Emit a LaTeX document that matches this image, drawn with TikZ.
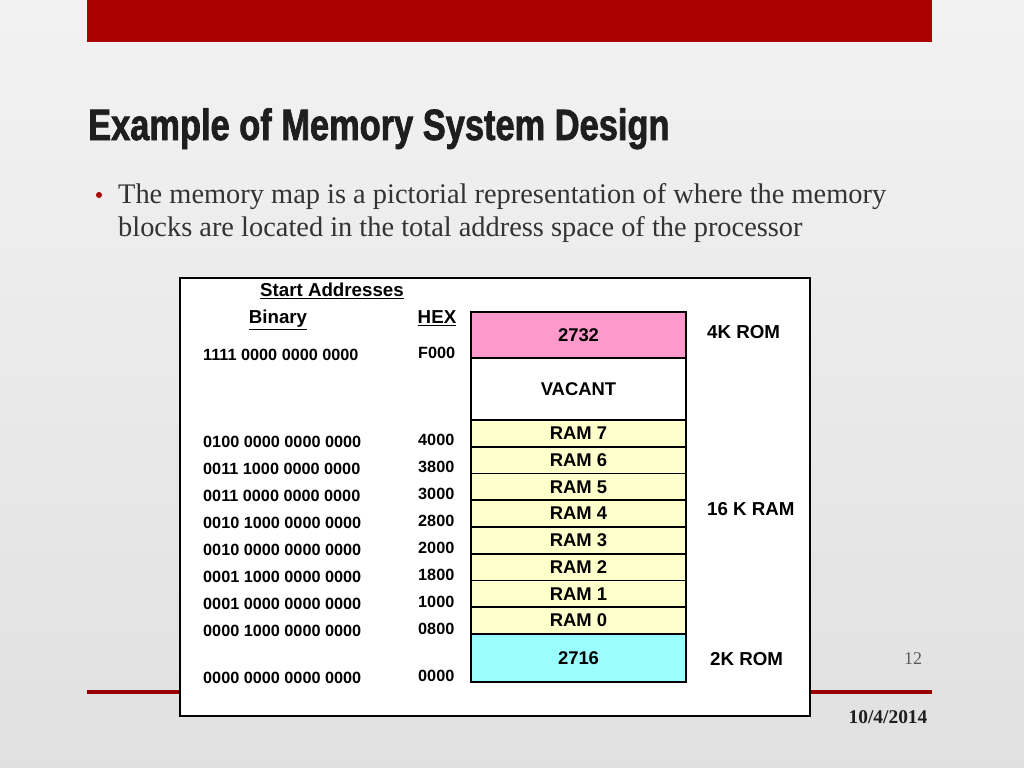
\documentclass[tikz,border=0pt]{standalone}
\usepackage{fontspec}
\setmainfont{Liberation Serif}
\newfontfamily\arialfnt{Liberation Sans}
\newfontfamily\titlefnt[FakeStretch=0.785, FakeBold=1.6]{Liberation Sans}
\definecolor{slidered}{HTML}{AA0000}
\definecolor{romtop}{HTML}{FF99CC}
\definecolor{ramfill}{HTML}{FFFFCC}
\definecolor{rombot}{HTML}{99FFFF}
\definecolor{titlegray}{HTML}{1E1E1E}
\definecolor{bodygray}{HTML}{333333}
\tikzset{
  blk/.style={draw, line width=1.6pt, minimum width=215bp, inner sep=0pt,
    font=\arialfnt\bfseries\fontsize{18.5}{20}\selectfont},
  addr/.style={anchor=west, inner sep=0pt, font=\arialfnt\bfseries\fontsize{16.3}{18}\selectfont},
  side/.style={anchor=west, inner sep=0pt, font=\arialfnt\bfseries\fontsize{18.8}{20}\selectfont},
  head/.style={anchor=center, inner sep=0pt, font=\arialfnt\bfseries\fontsize{18.8}{20}\selectfont},
  bodyline/.style={anchor=base west, inner sep=0pt, text=bodygray, font=\fontsize{28.5}{33}\selectfont}
}

\begin{document}
\begin{tikzpicture}[x=1bp, y=-1bp]
  \useasboundingbox (0,0) rectangle (1024,768);
  \shade[top color=black!5, bottom color=black!12] (0,0) rectangle (1024,768);
  \fill[slidered] (87,0) rectangle (932,42);
  \node[anchor=base west, inner sep=0pt, text=titlegray, font=\titlefnt\bfseries\fontsize{44}{48}\selectfont]
    (title) at (88,140) {Example of Memory System Design};
  \node[circle, fill=slidered, inner sep=0pt, minimum size=6bp] (dot) at (99,195) {};
  \node[bodyline] (body1) at (118,203) {The memory map is a pictorial representation of where the memory};
  \node[bodyline] (body2) at (118,236) {blocks are located in the total address space of the processor};
  \draw[slidered!90!black, line width=3.2pt] (87,692) -- (932,692);
  \node[anchor=base, text=black!65, font=\fontsize{18}{20}\selectfont] (page) at (913,664) {12};
  \node[anchor=base, text=titlegray, font=\bfseries\fontsize{19.5}{21}\selectfont] (date) at (888,723) {10/4/2014};
  \draw[fill=white, line width=1.6pt] (180,278) rectangle (810,716);
  \node[head] (start) at (332,291) {\underline{Start Addresses}};
  \node[head] (bin) at (278,320) {\underline{Binary}};
  \node[head] (hex) at (437,318) {\underline{HEX}};
  \node[blk, fill=romtop, minimum height=46bp] (rom2732) at (578.5,335) {2732};
  \node[blk, fill=white, minimum height=62bp] (vacant) at (578.5,389) {VACANT};
  \node[blk, fill=ramfill, minimum height=26.75bp] (ram7) at (578.5,433.4) {RAM 7};
  \node[blk, fill=ramfill, minimum height=26.75bp] (ram6) at (578.5,460.1) {RAM 6};
  \node[blk, fill=ramfill, minimum height=26.75bp] (ram5) at (578.5,486.9) {RAM 5};
  \node[blk, fill=ramfill, minimum height=26.75bp] (ram4) at (578.5,513.6) {RAM 4};
  \node[blk, fill=ramfill, minimum height=26.75bp] (ram3) at (578.5,540.4) {RAM 3};
  \node[blk, fill=ramfill, minimum height=26.75bp] (ram2) at (578.5,567.1) {RAM 2};
  \node[blk, fill=ramfill, minimum height=26.75bp] (ram1) at (578.5,593.9) {RAM 1};
  \node[blk, fill=ramfill, minimum height=26.75bp] (ram0) at (578.5,620.6) {RAM 0};
  \node[blk, fill=rombot, minimum height=48bp] (rom2716) at (578.5,658) {2716};
  \node[side] (k4) at (707,332) {4K ROM};
  \node[side] (k16) at (707,509) {16 K RAM};
  \node[side] (k2) at (710,659) {2K ROM};
  \node[addr] (b15) at (203,355) {1111 0000 0000 0000};
  \node[addr] (b7) at (203,442) {0100 0000 0000 0000};
  \node[addr] (b6) at (203,469) {0011 1000 0000 0000};
  \node[addr] (b5) at (203,496) {0011 0000 0000 0000};
  \node[addr] (b4) at (203,523) {0010 1000 0000 0000};
  \node[addr] (b3) at (203,550) {0010 0000 0000 0000};
  \node[addr] (b2) at (203,577) {0001 1000 0000 0000};
  \node[addr] (b1) at (203,604) {0001 0000 0000 0000};
  \node[addr] (b0) at (203,631) {0000 1000 0000 0000};
  \node[addr] (bz) at (203,678) {0000 0000 0000 0000};
  \node[addr] (h15) at (418,353) {F000};
  \node[addr] (h7) at (418,440) {4000};
  \node[addr] (h6) at (418,467) {3800};
  \node[addr] (h5) at (418,494) {3000};
  \node[addr] (h4) at (418,521) {2800};
  \node[addr] (h3) at (418,548) {2000};
  \node[addr] (h2) at (418,575) {1800};
  \node[addr] (h1) at (418,602) {1000};
  \node[addr] (h0) at (418,629) {0800};
  \node[addr] (hz) at (418,676) {0000};
\end{tikzpicture}
\end{document}
